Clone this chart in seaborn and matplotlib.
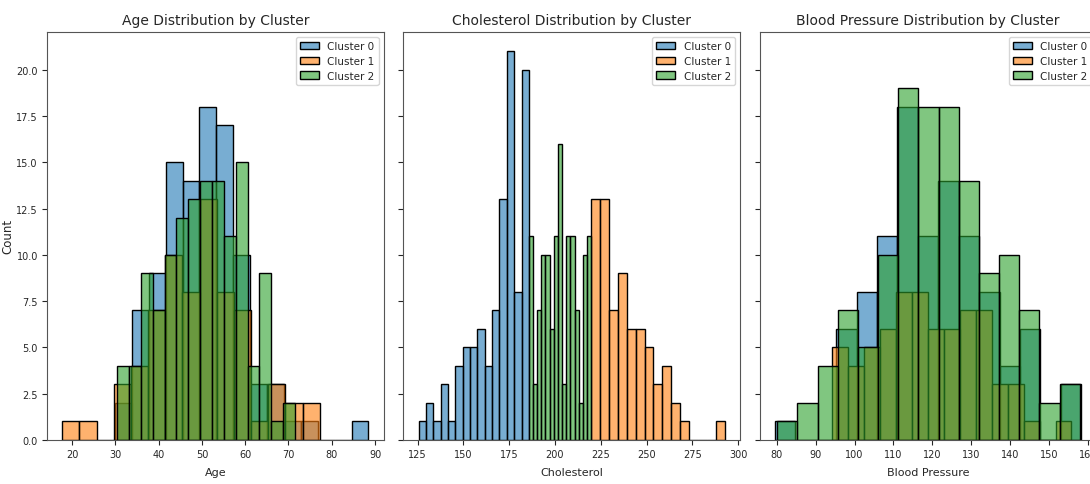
import matplotlib
matplotlib.use("Agg")
import matplotlib.pyplot as plt
import seaborn as sns
import pandas as pd

# cluster labels / colours
clusters = ["Cluster 0", "Cluster 1", "Cluster 2"]
colors = ["#1f77b4", "#ff7f0e", "#2ca02c"]

# Age: first bin edge, bin width, counts per bin
age_start = [29.9, 17.7, 30.4]
age_width = [3.905, 3.97, 2.74]
age_c0 = [2, 7, 9, 15, 14, 18, 17, 10, 3, 3, 1, 1, 0, 0, 1]
age_c1 = [1, 1, 0, 3, 4, 7, 10, 8, 13, 8, 7, 1, 3, 2, 2]
age_c2 = [4, 4, 9, 7, 10, 12, 13, 14, 14, 11, 15, 4, 9, 1, 2]

# Cholesterol
chol_start = [125.5, 219.7, 185.7]
chol_width = [4.017, 4.87, 2.27]
chol_c0 = [1, 2, 1, 3, 1, 4, 5, 5, 6, 4, 7, 13, 21, 8, 20]
chol_c1 = [13, 13, 7, 9, 6, 6, 5, 3, 4, 2, 1, 0, 0, 0, 1]
chol_c2 = [11, 3, 7, 10, 10, 6, 11, 16, 3, 11, 11, 7, 2, 10, 11]

# Blood pressure
bp_start = [79.57, 94.33, 80.17]
bp_width = [5.245, 4.094, 5.18]
bp_c0 = [1, 0, 0, 6, 8, 11, 18, 11, 14, 11, 8, 4, 6, 0, 3]
bp_c1 = [5, 4, 5, 6, 8, 8, 6, 6, 7, 7, 3, 3, 1, 0, 1]
bp_c2 = [1, 2, 4, 7, 5, 10, 19, 18, 18, 14, 9, 10, 7, 2, 3]

panels = [
    ("Age", "Age Distribution by Cluster", age_start, age_width, [age_c0, age_c1, age_c2]),
    ("Cholesterol", "Cholesterol Distribution by Cluster", chol_start, chol_width, [chol_c0, chol_c1, chol_c2]),
    ("Blood Pressure", "Blood Pressure Distribution by Cluster", bp_start, bp_width, [bp_c0, bp_c1, bp_c2]),
]

sns.set_style("ticks")
plt.rcParams['font.family'] = ['DejaVu Sans']

fig, axes = plt.subplots(1, 3, figsize=(10.9, 4.85), dpi=100, sharey=True)
fig.subplots_adjust(left=0.043, right=1.006, bottom=0.091, top=0.932, wspace=0.058)

for ax, (feat, title, starts, widths, counts) in zip(axes, panels):
    for i, c in enumerate(counts):
        edges = [starts[i] + widths[i] * k for k in range(len(c) + 1)]
        df = pd.DataFrame({"value": [(edges[k] + edges[k + 1]) / 2 for k in range(len(c))],
                           "count": c})
        sns.histplot(data=df, x="value", weights="count", bins=edges, ax=ax,
                     color=colors[i], alpha=0.6, edgecolor="black", linewidth=1,
                     label=clusters[i])
    ax.set_title(title, fontsize=10)
    ax.set_xlabel(feat, fontsize=8, labelpad=6)
    ax.set_ylabel("Count", fontsize=8.5, labelpad=1.5)
    ax.tick_params(labelsize=7, pad=3)
    ax.legend(loc="upper right", fontsize=7.5, handlelength=1.8, borderpad=0.4,
              labelspacing=0.45)
    for s in ax.spines.values():
        s.set_color("#555555")

axes[1].set_xticks([125, 150, 175, 200, 225, 250, 275, 300])

fig.savefig("out.png", dpi=100)
